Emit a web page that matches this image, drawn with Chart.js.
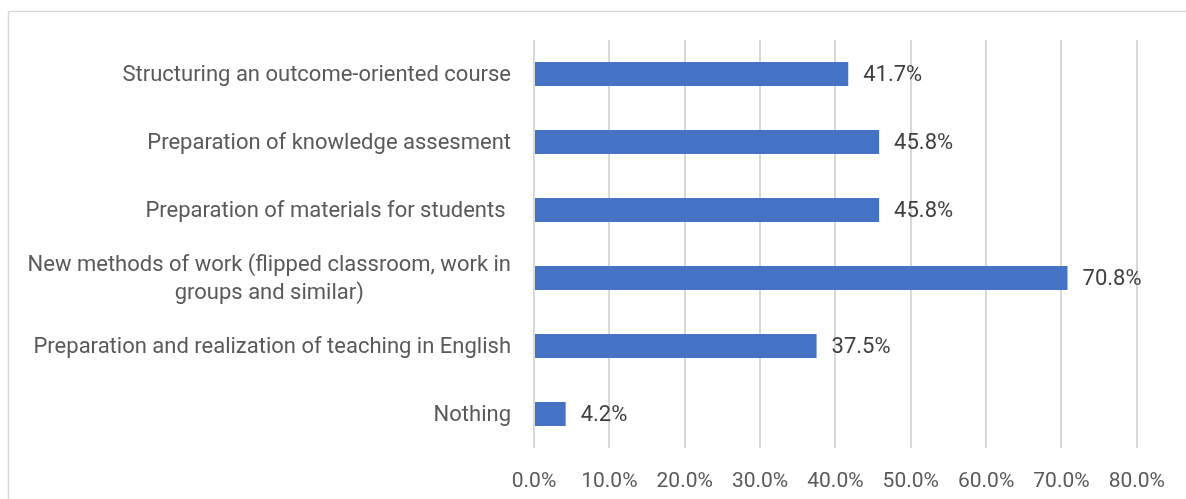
<!DOCTYPE html>
<html>
<head>
<meta charset="utf-8">
<script src="https://cdn.jsdelivr.net/npm/chart.js@4/dist/chart.umd.min.js"></script>
<style>
html,body{margin:0;padding:0;background:#fff;}
#wrap{width:1186px;height:499px;position:relative;}
</style>
</head>
<body>
<div id="wrap"><canvas id="c" width="1186" height="499"></canvas></div>
<script>
const categories = [
  "Structuring an outcome-oriented course",
  "Preparation of knowledge assesment",
  "Preparation of materials for students ",
  ["New methods of work (flipped classroom, work in", "groups and similar)"],
  "Preparation and realization of teaching in English",
  "Nothing"
];
const values = [41.7, 45.8, 45.8, 70.8, 37.5, 4.2];
const xTicks = [0, 10, 20, 30, 40, 50, 60, 70, 80];

const FONT = "Roboto";
const barColor = "#4472C4";

const borderPlugin = {
  id: "frame",
  beforeDraw(chart) {
    const ctx = chart.ctx;
    ctx.save();
    ctx.strokeStyle = "#d9d9d9";
    ctx.lineWidth = 1.5;
    ctx.strokeRect(8.5, 11.5, 1300, 700);
    ctx.restore();
  }
};

const catLabelPlugin = {
  id: "catLabels",
  afterDraw(chart) {
    const ctx = chart.ctx;
    const ys = chart.scales.y;
    ctx.save();
    ctx.font = "22px " + FONT;
    ctx.fillStyle = "#595959";
    ctx.textBaseline = "middle";
    const right = chart.chartArea.left - 23;
    categories.forEach((lab, i) => {
      const y = ys.getPixelForTick(i) + 1.5;
      const lines = Array.isArray(lab) ? lab : [lab];
      const lh = 28;
      const maxW = Math.max(...lines.map(l => ctx.measureText(l).width));
      const cx = right - maxW / 2;
      lines.forEach((l, k) => {
        const ly = y + (k - (lines.length - 1) / 2) * lh;
        if (lines.length > 1) {
          ctx.textAlign = "center";
          ctx.fillText(l, cx, ly);
        } else {
          ctx.textAlign = "right";
          ctx.fillText(l, right, ly);
        }
      });
    });
    ctx.restore();
  }
};

const valueLabelPlugin = {
  id: "valLabels",
  afterDatasetsDraw(chart) {
    const ctx = chart.ctx;
    const meta = chart.getDatasetMeta(0);
    ctx.save();
    ctx.font = "22px " + FONT;
    ctx.fillStyle = "#404040";
    ctx.textAlign = "left";
    ctx.textBaseline = "middle";
    meta.data.forEach((bar, i) => {
      ctx.fillText(values[i].toFixed(1) + "%", bar.x + 15, bar.y + 1.5);
    });
    ctx.restore();
  }
};

new Chart(document.getElementById("c"), {
  type: "bar",
  data: {
    labels: categories,
    datasets: [{
      data: values,
      backgroundColor: barColor,
      borderWidth: 0,
      barPercentage: 0.353,
      categoryPercentage: 1
    }]
  },
  options: {
    indexAxis: "y",
    responsive: false,
    animation: false,
    devicePixelRatio: 1,
    layout: { padding: { left: 0, top: 40, right: 48, bottom: 0 } },
    plugins: { legend: { display: false }, tooltip: { enabled: false } },
    scales: {
      y: {
        grid: { display: false },
        border: { display: false },
        ticks: { display: false },
        afterFit(scale) { scale.width = 534; }
      },
      x: {
        min: 0,
        max: 80,
        afterBuildTicks(scale) { scale.ticks = xTicks.map(v => ({ value: v })); },
        grid: { color: "#d9d9d9", lineWidth: 2, drawTicks: false },
        border: { display: false },
        ticks: {
          padding: 21,
          color: "#595959",
          font: { family: FONT, size: 21 },
          callback: v => Number(v).toFixed(1) + "%"
        },
        afterFit(scale) { scale.height = 51; }
      }
    }
  },
  plugins: [borderPlugin, catLabelPlugin, valueLabelPlugin]
});
</script>
</body>
</html>
